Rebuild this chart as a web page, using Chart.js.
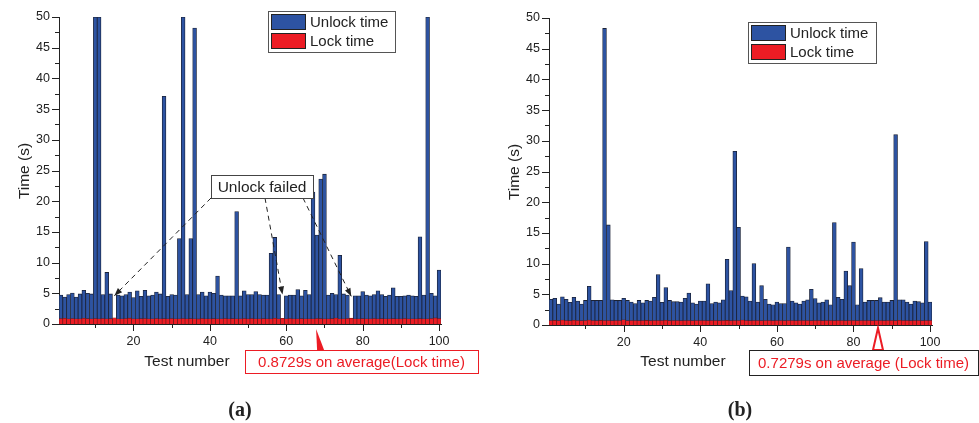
<!DOCTYPE html>
<html>
<head>
<meta charset="utf-8">
<script src="https://cdn.jsdelivr.net/npm/chart.js@4.4.1/dist/chart.umd.min.js"></script>
<style>
  html, body { margin: 0; padding: 0; background: #fff; }
  #wrap { position: relative; width: 979px; height: 423px; overflow: hidden; }
  canvas { position: absolute; top: 0; }
  #chartA { left: 0; }
  #chartB { left: 490px; }
</style>
</head>
<body>
<div id="wrap">
  <canvas id="chartA" width="490" height="423"></canvas>
  <canvas id="chartB" width="489" height="423"></canvas>
</div>
<script>
// test numbers 1..100 (categories)
const testNumbers = Array.from({ length: 100 }, (_, i) => i + 1);

// tick labels
const xMajor = [20, 40, 60, 80, 100];
const xMinor = [10, 30, 50, 70, 90];
const yMajor = [0, 5, 10, 15, 20, 25, 30, 35, 40, 45, 50];
const yMinor = [2.5, 7.5, 12.5, 17.5, 22.5, 27.5, 32.5, 37.5, 42.5, 47.5];

// (a) values, null = unlock failed
const unlockA = [
  4.7, 4.4, 4.8, 5.05, 4.4, 4.9, 5.5, 5.0, 4.9, 50,
  50, 4.8, 8.4, 4.9, null, 4.7, 4.6, 4.8, 5.2, 4.3,
  5.4, 4.5, 5.5, 4.6, 4.7, 5.2, 4.9, 37.1, 4.5, 4.8,
  4.7, 13.9, 50, 4.8, 13.9, 48.2, 4.8, 5.2, 4.6, 5.2,
  5.0, 7.8, 4.7, 4.6, 4.6, 4.6, 18.3, 4.6, 5.4, 4.8,
  4.8, 5.3, 4.8, 4.7, 4.7, 11.5, 14.1, 4.8, null, 4.6,
  4.7, 4.7, 5.6, 4.6, 5.5, 4.8, 21.5, 14.5, 23.6, 24.4,
  4.7, 5.0, 4.8, 11.2, 4.9, 4.7, null, 4.6, 4.6, 5.3,
  4.7, 4.6, 4.8, 5.4, 4.8, 4.5, 4.7, 5.9, 4.5, 4.5,
  4.6, 4.7, 4.6, 4.5, 14.2, 4.7, 50, 5.0, 4.6, 8.8
];
const lockA = [
  0.88, 0.92, 0.85, 0.9, 0.86, 0.84, 0.93, 0.87, 0.85, 0.9,
  0.86, 0.88, 0.84, 0.87, 1.02, 0.86, 0.85, 0.9, 0.95, 0.86,
  0.84, 0.87, 0.88, 0.85, 0.86, 0.9, 0.84, 0.87, 0.85, 0.88,
  0.86, 0.84, 0.89, 0.85, 0.87, 0.86, 0.83, 0.88, 0.86, 0.85,
  0.87, 0.84, 0.86, 0.88, 0.85, 0.87, 0.86, 0.84, 0.9, 0.86,
  0.88, 0.85, 0.86, 0.87, 0.84, 0.86, 0.93, 0.85, 0.92, 0.86,
  0.88, 0.85, 0.86, 0.87, 0.84, 0.86, 0.85, 0.88, 0.87, 0.86,
  0.84, 0.87, 0.98, 0.85, 0.86, 0.88, 0.95, 0.86, 0.85, 0.87,
  0.86, 0.84, 0.88, 0.85, 0.87, 0.86, 0.84, 0.87, 0.85, 0.86,
  0.88, 0.85, 0.86, 0.84, 0.87, 0.86, 0.85, 0.88, 1.0, 0.9
];

// (b)
const unlockB = [
  4.2, 4.35, 3.4, 4.6, 4.2, 3.7, 4.5, 3.9, 3.4, 4.0,
  6.3, 4.0, 4.0, 4.0, 48.3, 16.3, 4.1, 4.0, 4.0, 4.35,
  4.0, 3.75, 3.5, 4.0, 3.6, 4.0, 3.9, 4.5, 8.2, 3.7,
  6.1, 4.0, 3.8, 3.8, 3.75, 4.35, 5.2, 3.6, 3.4, 3.9,
  3.9, 6.7, 3.5, 3.75, 3.6, 4.1, 10.7, 5.6, 28.3, 15.9,
  4.7, 4.6, 3.9, 10.0, 3.75, 6.4, 4.2, 3.4, 3.3, 3.75,
  3.5, 3.5, 12.7, 3.9, 3.6, 3.4, 3.9, 4.1, 5.8, 4.3,
  3.6, 3.75, 4.1, 3.3, 16.7, 4.5, 4.2, 8.8, 6.4, 13.5,
  3.3, 9.2, 3.75, 4.0, 4.0, 4.0, 4.45, 3.75, 3.75, 4.0,
  31.0, 4.1, 4.1, 3.75, 3.4, 3.9, 3.8, 3.6, 13.6, 3.75
];
const lockB = [
  0.72, 0.75, 0.7, 0.8, 0.73, 0.71, 0.76, 0.72, 0.7, 0.74,
  0.82, 0.73, 0.71, 0.75, 0.72, 0.74, 0.7, 0.73, 0.72, 0.84,
  0.71, 0.74, 0.72, 0.7, 0.73, 0.75, 0.71, 0.72, 0.74, 0.72,
  0.76, 0.71, 0.73, 0.72, 0.7, 0.74, 0.72, 0.71, 0.73, 0.72,
  0.74, 0.71, 0.72, 0.73, 0.7, 0.72, 0.75, 0.71, 0.73, 0.72,
  0.8, 0.72, 0.71, 0.73, 0.72, 0.7, 0.74, 0.72, 0.71, 0.73,
  0.72, 0.7, 0.74, 0.72, 0.71, 0.73, 0.72, 0.74, 0.71, 0.73,
  0.72, 0.7, 0.74, 0.72, 0.71, 0.73, 0.72, 0.7, 0.74, 0.72,
  0.71, 0.73, 0.72, 0.74, 0.71, 0.73, 0.72, 0.7, 0.74, 0.72,
  0.71, 0.76, 0.72, 0.73, 0.71, 0.74, 0.72, 0.7, 0.73, 0.72
];

const FONT = "'Liberation Sans', Arial, sans-serif";
const INK = '#222';
const RED = '#ec1c24';

function arrowHead(ctx, x0, y0, x1, y1, len, half) {
  const ang = Math.atan2(y1 - y0, x1 - x0);
  ctx.beginPath();
  ctx.moveTo(x1, y1);
  ctx.lineTo(x1 - len * Math.cos(ang) + half * Math.sin(ang), y1 - len * Math.sin(ang) - half * Math.cos(ang));
  ctx.lineTo(x1 - len * Math.cos(ang) - half * Math.sin(ang), y1 - len * Math.sin(ang) + half * Math.cos(ang));
  ctx.closePath();
  ctx.fill();
}

// ticks, legend, titles and notes
const panelDecor = {
  id: 'panelDecor',
  afterDraw(chart, args, o) {
    const { ctx, chartArea: a, scales: { x, y } } = chart;
    ctx.save();

    // tick marks (major / minor)
    ctx.strokeStyle = INK;
    ctx.lineWidth = 1;
    ctx.beginPath();
    yMajor.concat(yMinor).forEach(v => {
      const py = Math.round(y.getPixelForValue(v)) + 0.5;
      const len = yMajor.includes(v) ? 7 : 4;
      ctx.moveTo(a.left - len, py); ctx.lineTo(a.left, py);
    });
    xMajor.concat(xMinor).forEach(v => {
      const px = Math.round(x.getPixelForValue(v)) + 0.5;
      const len = xMajor.includes(v) ? 7 : 4;
      ctx.moveTo(px, a.bottom); ctx.lineTo(px, a.bottom + len);
    });
    ctx.stroke();

    // legend
    const lg = o.legend;
    ctx.fillStyle = '#fff';
    ctx.fillRect(lg.x, lg.y, lg.w, lg.h);
    ctx.strokeStyle = '#555';
    ctx.strokeRect(lg.x + 0.5, lg.y + 0.5, lg.w, lg.h);
    ctx.font = '15px ' + FONT;
    ctx.textBaseline = 'middle';
    ctx.textAlign = 'left';
    chart.data.datasets.forEach((ds, i) => {
      const sy = lg.y + 3 + i * 19;
      ctx.fillStyle = ds.backgroundColor;
      ctx.fillRect(lg.x + 3, sy, 35, 16);
      ctx.strokeStyle = '#222';
      ctx.strokeRect(lg.x + 3.5, sy + 0.5, 34, 15);
      ctx.fillStyle = INK;
      ctx.fillText(ds.label, lg.x + 42, sy + 8.5);
    });

    // axis titles and panel tag
    ctx.fillStyle = INK;
    ctx.font = '15.5px ' + FONT;
    ctx.textAlign = 'center';
    ctx.fillText('Test number', o.xTitle[0], o.xTitle[1]);
    ctx.save();
    ctx.translate(o.yTitle[0], o.yTitle[1]);
    ctx.rotate(-Math.PI / 2);
    ctx.fillText('Time (s)', 0, 0);
    ctx.restore();
    ctx.font = 'bold 20px "Liberation Serif", "Times New Roman", serif';
    ctx.fillText(o.tag[0], o.tag[1], o.tag[2]);

    // "Unlock failed" note
    if (o.fail) {
      const f = o.fail;
      ctx.setLineDash([5, 4]);
      ctx.strokeStyle = INK;
      ctx.fillStyle = INK;
      f.targets.forEach(t => {
        const tx = x.getPixelForValue(t.at[0]);
        const ty = y.getPixelForValue(t.at[1]);
        ctx.beginPath();
        ctx.moveTo(t.from[0], t.from[1]);
        ctx.lineTo(tx, ty);
        ctx.stroke();
        arrowHead(ctx, t.from[0], t.from[1], tx, ty, 8, 3);
      });
      ctx.setLineDash([]);
      ctx.fillStyle = '#fff';
      ctx.fillRect(f.box[0], f.box[1], f.box[2], f.box[3]);
      ctx.strokeStyle = '#444';
      ctx.strokeRect(f.box[0] + 0.5, f.box[1] + 0.5, f.box[2], f.box[3]);
      ctx.fillStyle = INK;
      ctx.font = '15.5px ' + FONT;
      ctx.fillText('Unlock failed', f.box[0] + f.box[2] / 2, f.box[1] + f.box[3] / 2 + 1);
    }

    // average note
    const v = o.avg;
    const tipX = x.getPixelForValue(v.tip);
    ctx.beginPath();
    ctx.moveTo(tipX, v.tipY);
    ctx.lineTo(tipX + v.base[0], v.box[1]);
    ctx.lineTo(tipX + v.base[1], v.box[1]);
    ctx.closePath();
    if (v.filled) {
      ctx.fillStyle = RED; ctx.fill();
    } else {
      ctx.fillStyle = '#fff'; ctx.fill();
      ctx.strokeStyle = RED; ctx.lineWidth = 2; ctx.stroke();
      ctx.lineWidth = 1;
    }
    ctx.fillStyle = '#fff';
    ctx.fillRect(v.box[0], v.box[1], v.box[2], v.box[3]);
    ctx.strokeStyle = v.border;
    ctx.strokeRect(v.box[0] + 0.5, v.box[1] + 0.5, v.box[2], v.box[3]);
    ctx.fillStyle = RED;
    ctx.font = '15px ' + FONT;
    ctx.fillText(v.text, v.box[0] + v.box[2] / 2, v.box[1] + v.box[3] / 2 + 1);

    ctx.restore();
  }
};

function makeChart(id, unlock, lock, pad, axisH, decor) {
  const pts = arr => arr.map((val, i) => ({ x: testNumbers[i], y: val }));
  const tickFont = { family: FONT, size: 12.5 };
  return new Chart(document.getElementById(id), {
    type: 'bar',
    data: {
      datasets: [
        {
          label: 'Unlock time',
          data: pts(unlock),
          backgroundColor: '#2d53a2',
          borderColor: '#1b2236',
          borderWidth: 0.8,
          grouped: false,
          barPercentage: 1,
          categoryPercentage: 1,
          order: 2
        },
        {
          label: 'Lock time',
          data: pts(lock),
          backgroundColor: RED,
          borderColor: '#5b1a1a',
          borderWidth: 0.6,
          grouped: false,
          barPercentage: 1,
          categoryPercentage: 1,
          order: 1
        }
      ]
    },
    options: {
      responsive: false,
      animation: false,
      layout: { padding: pad },
      plugins: {
        legend: { display: false },
        tooltip: { enabled: false },
        panelDecor: decor
      },
      scales: {
        x: {
          type: 'linear',
          min: 0.5,
          max: 100.5,
          offset: false,
          grid: { display: false, tickLength: 7 },
          border: { display: true, color: INK, width: 1 },
          afterBuildTicks: s => { s.ticks = xMajor.map(v => ({ value: v })); },
          ticks: { font: tickFont, color: INK, padding: 3, maxRotation: 0, autoSkip: false },
          afterFit: s => { s.height = axisH; }
        },
        y: {
          min: 0,
          max: 50,
          grid: { display: false, tickLength: 7 },
          border: { display: true, color: INK, width: 1 },
          afterBuildTicks: s => { s.ticks = yMajor.map(v => ({ value: v })); },
          ticks: { font: tickFont, color: INK, padding: 2 },
          afterFit: s => { s.width = 59; }
        }
      }
    },
    plugins: [panelDecor]
  });
}

makeChart('chartA', unlockA, lockA, { left: 0, top: 17, right: 49, bottom: 0 }, 99, {
  legend: { x: 268, y: 11, w: 127, h: 41 },
  xTitle: [187, 362],
  yTitle: [25, 171],
  tag: ['(a)', 240, 411],
  fail: {
    box: [211, 175, 102, 23],
    targets: [
      { from: [211, 198], at: [15, 4.6] },
      { from: [265, 198], at: [59, 4.8] },
      { from: [303, 198], at: [77, 4.5] }
    ]
  },
  avg: {
    box: [245, 350, 233, 23], border: RED, text: '0.8729s on average(Lock time)',
    tip: 67.8, tipY: 329, base: [1, 8], filled: true
  }
});

makeChart('chartB', unlockB, lockB, { left: 0, top: 18, right: 47, bottom: 0 }, 98, {
  legend: { x: 258, y: 22, w: 128, h: 41 },
  xTitle: [193, 362],
  yTitle: [25, 172],
  tag: ['(b)', 250, 411],
  avg: {
    box: [259, 350, 229, 25], border: INK, text: '0.7279s on average (Lock time)',
    tip: 86.4, tipY: 328, base: [-5, 5], filled: false
  }
});
</script>
</body>
</html>
